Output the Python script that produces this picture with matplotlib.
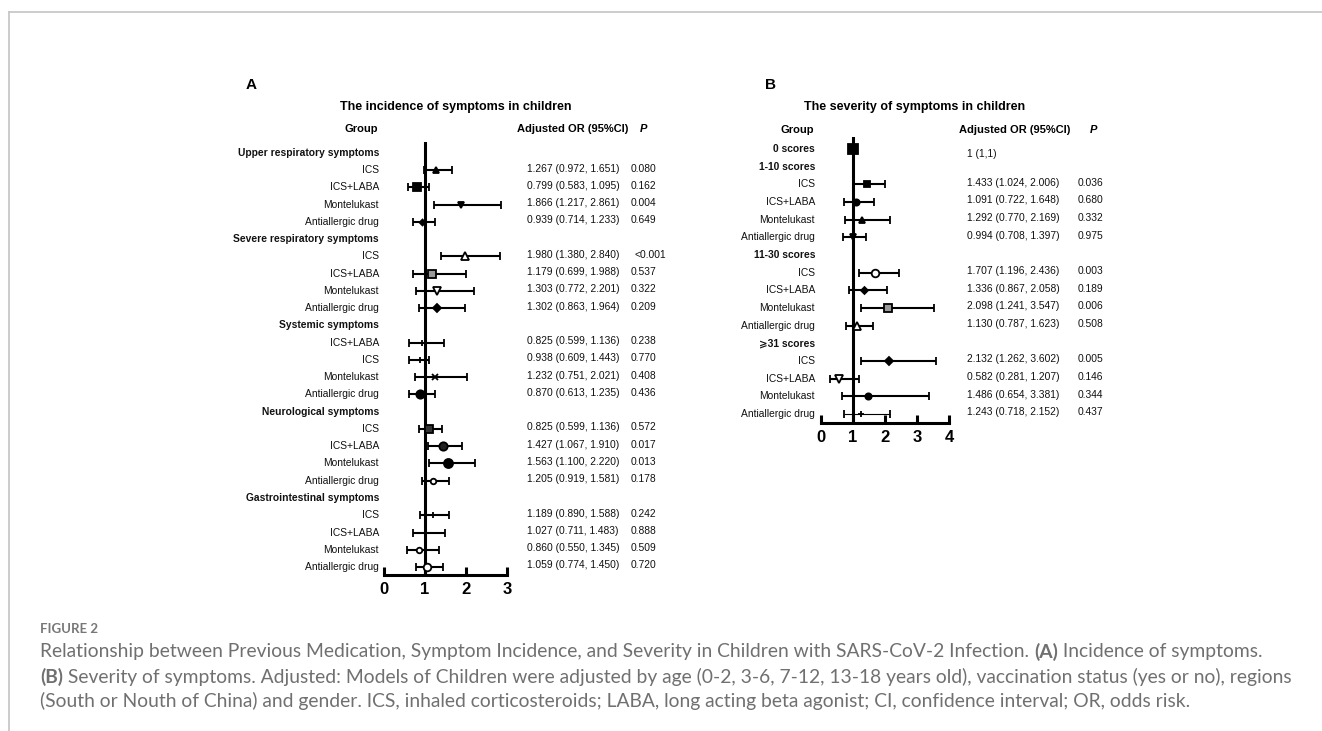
import matplotlib
matplotlib.use("Agg")
import matplotlib.pyplot as plt
import matplotlib.transforms as mtransforms
from matplotlib.lines import Line2D

W, H = 1322, 731
plt.rcParams['font.family'] = ['Liberation Sans', 'DejaVu Sans']

# ---------------- data: panel A (incidence) ----------------
a_labels = ["Upper respiratory symptoms", "ICS", "ICS+LABA", "Montelukast", "Antiallergic drug",
            "Severe respiratory symptoms", "ICS", "ICS+LABA", "Montelukast", "Antiallergic drug",
            "Systemic symptoms", "ICS+LABA", "ICS", "Montelukast", "Antiallergic drug",
            "Neurological symptoms", "ICS", "ICS+LABA", "Montelukast", "Antiallergic drug",
            "Gastrointestinal symptoms", "ICS", "ICS+LABA", "Montelukast", "Antiallergic drug"]
# point estimate and CI as drawn in the picture (None = group header)
a_or = [None, 1.267, 0.799, 1.866, 0.939, None, 1.980, 1.179, 1.303, 1.302,
        None, 0.93, 0.87, 1.232, 0.870, None, 1.10, 1.427, 1.563, 1.205,
        None, 1.189, 1.027, 0.860, 1.059]
a_lo = [None, 0.972, 0.583, 1.217, 0.714, None, 1.380, 0.699, 0.772, 0.863,
        None, 0.60, 0.60, 0.751, 0.613, None, 0.86, 1.067, 1.100, 0.919,
        None, 0.890, 0.711, 0.550, 0.774]
a_hi = [None, 1.651, 1.095, 2.861, 1.233, None, 2.840, 1.988, 2.201, 1.964,
        None, 1.46, 1.10, 2.021, 1.235, None, 1.42, 1.910, 2.220, 1.581,
        None, 1.588, 1.483, 1.345, 1.450]
a_text = ["", "1.267 (0.972, 1.651)", "0.799 (0.583, 1.095)", "1.866 (1.217, 2.861)", "0.939 (0.714, 1.233)",
          "", "1.980 (1.380, 2.840)", "1.179 (0.699, 1.988)", "1.303 (0.772, 2.201)", "1.302 (0.863, 1.964)",
          "", "0.825 (0.599, 1.136)", "0.938 (0.609, 1.443)", "1.232 (0.751, 2.021)", "0.870 (0.613, 1.235)",
          "", "0.825 (0.599, 1.136)", "1.427 (1.067, 1.910)", "1.563 (1.100, 2.220)", "1.205 (0.919, 1.581)",
          "", "1.189 (0.890, 1.588)", "1.027 (0.711, 1.483)", "0.860 (0.550, 1.345)", "1.059 (0.774, 1.450)"]
a_p = ["", "0.080", "0.162", "0.004", "0.649", "", "<0.001", "0.537", "0.322", "0.209",
       "", "0.238", "0.770", "0.408", "0.436", "", "0.572", "0.017", "0.013", "0.178",
       "", "0.242", "0.888", "0.509", "0.720"]
a_ticks = [0, 1, 2, 3]

# ---------------- data: panel B (severity) ----------------
b_labels = ["0 scores", "1-10 scores", "ICS", "ICS+LABA", "Montelukast", "Antiallergic drug",
            "11-30 scores", "ICS", "ICS+LABA", "Montelukast", "Antiallergic drug",
            "\u2a7e31 scores", "ICS", "ICS+LABA", "Montelukast", "Antiallergic drug"]
b_or = [1.0, None, 1.433, 1.091, 1.292, 0.994, None, 1.707, 1.336, 2.098, 1.130,
        None, 2.132, 0.582, 1.486, 1.243]
b_lo = [1.0, None, 1.024, 0.722, 0.770, 0.708, None, 1.196, 0.867, 1.241, 0.787,
        None, 1.262, 0.281, 0.654, 0.718]
b_hi = [1.0, None, 2.006, 1.648, 2.169, 1.397, None, 2.436, 2.058, 3.547, 1.623,
        None, 3.602, 1.207, 3.381, 2.152]
b_text = ["1 (1,1)", "", "1.433 (1.024, 2.006)", "1.091 (0.722, 1.648)", "1.292 (0.770, 2.169)",
          "0.994 (0.708, 1.397)", "", "1.707 (1.196, 2.436)", "1.336 (0.867, 2.058)",
          "2.098 (1.241, 3.547)", "1.130 (0.787, 1.623)", "", "2.132 (1.262, 3.602)",
          "0.582 (0.281, 1.207)", "1.486 (0.654, 3.381)", "1.243 (0.718, 2.152)"]
b_p = ["", "", "0.036", "0.680", "0.332", "0.975", "", "0.003", "0.189", "0.006", "0.508",
       "", "0.005", "0.146", "0.344", "0.437"]
b_ticks = [0, 1, 2, 3, 4]

caption_head = "FIGURE 2"
caption_lines = [
    [("Relationship between Previous Medication, Symptom Incidence, and Severity in Children with "
      "SARS-CoV-2 Infection. ", "normal"), ("(A)", "bold"), (" Incidence of symptoms.", "normal")],
    [("(B)", "bold"), (" Severity of symptoms. Adjusted: Models of Children were adjusted by age "
                       "(0-2, 3-6, 7-12, 13-18 years old), vaccination status (yes or no), regions", "normal")],
    [("(South or Nouth of China) and gender. ICS, inhaled corticosteroids; LABA, long acting beta "
      "agonist; CI, confidence interval; OR, odds risk.", "normal")],
]

# marker styles (marker, size, face colour, linewidth of the CI line)
a_style = [None, ('^', 4, 'k', 1.5), ('s', 5.5, 'k', 1.5), ('v', 4.5, 'k', 1.5), ('D', 3, 'k', 1.5),
           None, ('^', 6, 'white', 1.5), ('s', 6, '#9a9a9a', 1.5), ('v', 6, 'white', 1.5), ('D', 4.5, 'k', 1.5),
           None, ('|', 4, 'k', 1.5), ('|', 5, 'k', 1.5), ('x', 4.5, 'k', 1.5), ('o', 6, 'k', 1.5),
           None, ('s', 5.5, '#333333', 1.5), ('o', 6, '#222222', 1.5), ('o', 6.5, 'k', 1.5), ('o', 4, 'white', 1.5),
           None, ('|', 5, 'k', 1.5), ('|', 4, 'k', 1.5), ('o', 4, 'white', 1.5), ('o', 5.5, 'white', 1.5)]
b_style = [('s', 7, 'k', 1.5), None, ('s', 5, 'k', 1.5), ('o', 4.5, 'k', 1.5), ('^', 4, 'k', 1.5),
           ('v', 4, 'k', 1.5), None, ('o', 5.5, 'white', 1.5), ('D', 3.5, 'k', 1.5),
           ('s', 6, '#9a9a9a', 1.5), ('^', 6, 'white', 1.5), None, ('D', 4.5, 'k', 1.5),
           ('v', 6, 'white', 1.5), ('o', 4.5, 'k', 1.5), ('+', 4, 'k', 0.8)]


def fx(px):
    return px / W


def fy(py):
    return 1 - py / H


fig = plt.figure(figsize=(W / 100, H / 100), dpi=100)

# page frame
fig.add_artist(Line2D([fx(9), 1], [fy(12), fy(12)], color='#c8c8c8', lw=1.3))
fig.add_artist(Line2D([fx(9), fx(9)], [fy(12), 0], color='#c8c8c8', lw=1.3))


def forest(labels, ors, los, his, texts, ps, styles, ticks,
           x0, x1, line_top, axis_px, row0, pitch, label_x, text_x, p_x, header_bold_rows):
    ax = fig.add_axes([fx(x0), fy(axis_px), fx(x1) - fx(x0), (axis_px - line_top) / H])
    ax.set_xlim(ticks[0], ticks[-1])
    ax.set_ylim((axis_px - row0) / pitch, (line_top - row0) / pitch)
    ax.patch.set_alpha(0)
    for s in ['top', 'right', 'left']:
        ax.spines[s].set_visible(False)
    ax.spines['bottom'].set_linewidth(2.2)
    ax.set_yticks([])
    ax.set_xticks(ticks)
    ax.tick_params(axis='x', direction='in', length=6, width=2.2, labelsize=12, pad=5)
    for lbl in ax.get_xticklabels():
        lbl.set_fontweight('bold')
    ax.axvline(1, color='k', lw=2.2, zorder=1)

    trans = mtransforms.blended_transform_factory(fig.transFigure, ax.transData)
    for i, lab in enumerate(labels):
        bold = ors[i] is None or i in header_bold_rows
        ax.text(fx(label_x), i, lab, transform=trans, ha='right', va='center',
                fontsize=7.4, fontweight='bold' if bold else 'normal', color='#111111')
        if ors[i] is None:
            continue
        m, ms, fc, lw = styles[i]
        ax.errorbar([ors[i]], [i], xerr=[[ors[i] - los[i]], [his[i] - ors[i]]],
                    fmt=m, ms=ms, mfc=fc, mec='k', mew=1.3, color='k',
                    ecolor='k', elinewidth=lw, capsize=3, capthick=lw, zorder=3, clip_on=False)
        if texts[i]:
            off = 0.3 if i in header_bold_rows else -0.1
            ax.text(fx(text_x), i + off, texts[i], transform=trans, ha='left', va='center',
                    fontsize=7.4, color='#111111')
        if ps[i]:
            px_ = p_x + (4 if ps[i].startswith('<') else 0)
            ax.text(fx(px_), i - 0.1, ps[i], transform=trans, ha='left', va='center',
                    fontsize=7.4, color='#111111')
    return ax


forest(a_labels, a_or, a_lo, a_hi, a_text, a_p, a_style, a_ticks,
       384, 507, 142, 575, 153, 17.25, 379, 526.7, 630.7, [])
forest(b_labels, b_or, b_lo, b_hi, b_text, b_p, b_style, b_ticks,
       820.7, 949, 137, 423, 149, 17.67, 815, 966.7, 1078, [0])

# headers panel A
fig.text(fx(251), fy(85), "A", fontsize=11, fontweight='bold', ha='center', va='center')
fig.text(fx(456), fy(107), "The incidence of symptoms in children", fontsize=9,
         fontweight='bold', ha='center', va='center')
fig.text(fx(378), fy(129), "Group", fontsize=8, fontweight='bold', ha='right', va='center')
fig.text(fx(517), fy(129), "Adjusted OR (95%CI)", fontsize=8, fontweight='bold', ha='left', va='center')
fig.text(fx(640), fy(129), "P", fontsize=8, fontweight='bold', style='italic', ha='left', va='center')

# headers panel B
fig.text(fx(771), fy(85), "B", fontsize=11, fontweight='bold', ha='center', va='center')
fig.text(fx(915), fy(107), "The severity of symptoms in children", fontsize=9,
         fontweight='bold', ha='center', va='center')
fig.text(fx(814), fy(130), "Group", fontsize=8, fontweight='bold', ha='right', va='center')
fig.text(fx(959), fy(130), "Adjusted OR (95%CI)", fontsize=8, fontweight='bold', ha='left', va='center')
fig.text(fx(1090), fy(130), "P", fontsize=8, fontweight='bold', style='italic', ha='left', va='center')

# caption
renderer = fig.canvas.get_renderer()
cap_font = ['Lato', 'DejaVu Sans']
cap_col = '#707070'
fig.text(fx(40), fy(629), caption_head, fontsize=9.5, fontweight='bold', family=cap_font,
         color='#777777', ha='left', va='center')


def line_width(line, size):
    total = 0
    for seg, weight in line:
        t = fig.text(0, 0, seg, fontsize=size, fontweight=weight, family=cap_font)
        total += t.get_window_extent(renderer).width
        t.remove()
    return total


# fit the widest caption line to the width it has in the page
widest = max(line_width(line, 12) for line in caption_lines)
cap_size = 12 * 1247 / widest

for line, ypx in zip(caption_lines, [652, 677, 701]):
    xpx = 40
    for seg, weight in line:
        t = fig.text(fx(xpx), fy(ypx), seg, fontsize=cap_size, fontweight=weight,
                     family=cap_font, color=cap_col, ha='left', va='center')
        xpx += t.get_window_extent(renderer).width

fig.savefig("out.png", dpi=100)
